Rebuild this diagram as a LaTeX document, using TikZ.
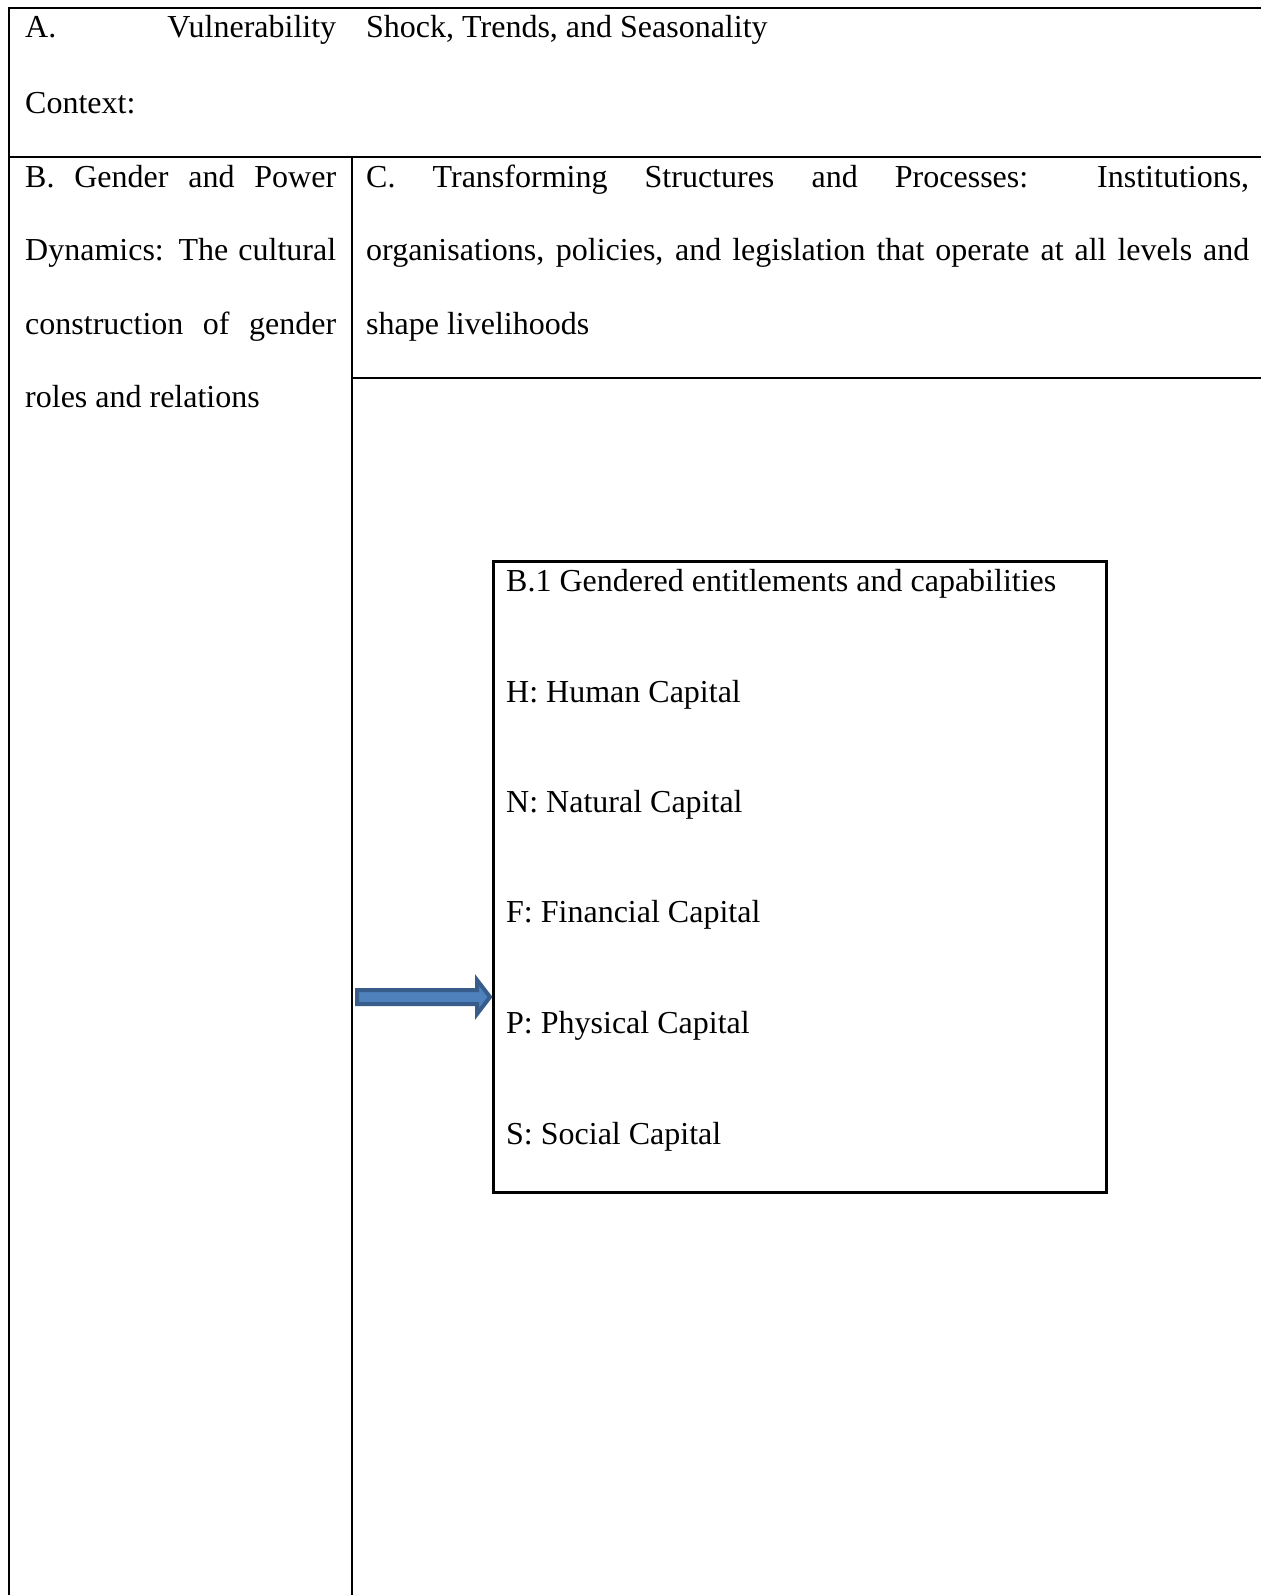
\documentclass[tikz,border=0pt]{standalone}
\usepackage{fontspec}
\setmainfont{Liberation Serif}
\usetikzlibrary{calc}
\begin{document}
\begin{tikzpicture}[x=1pt,y=-1pt,
  rule/.style={line width=2.5pt,black},
  txt/.style={anchor=base west,inner sep=0pt,font=\fontsize{32}{36}\selectfont},
  capbox/.style={draw,line width=2.5pt,anchor=north west,inner sep=0pt},
  blockarrow/.style={fill={rgb,255:red,79;green,129;blue,189},draw={rgb,255:red,56;green,93;blue,138},line width=4pt,line join=miter}
]
\useasboundingbox (0,0) rectangle (1261,1595);
% frame lines
\coordinate (tl) at (9,8);
\coordinate (tr) at (1261,8);
\coordinate (bl) at (9,1595);
\coordinate (ml) at (9,157);
\coordinate (mr) at (1261,157);
\coordinate (dt) at (352,157);
\coordinate (db) at (352,1595);
\coordinate (cl) at (352,378);
\coordinate (cr) at (1261,378);
\draw[rule] (tr) -- (tl) -- (bl);
\draw[rule] (ml) -- (mr);
\draw[rule] (dt) -- (db);
\draw[rule] (cl) -- (cr);
% row A
\node[txt] (a1) at (25,38) {\makebox[311pt][s]{A. Vulnerability}};
\node[txt] (a2) at (25,113) {Context:};
\node[txt] (a3) at (366,38) {Shock, Trends, and Seasonality};
% column B
\node[txt] (b1) at (25,187) {\makebox[311pt][s]{B. Gender and Power}};
\node[txt] (b2) at (25,260.5) {\makebox[311pt][s]{Dynamics: The cultural}};
\node[txt] (b3) at (25,334) {\makebox[311pt][s]{construction of gender}};
\node[txt] (b4) at (25,407.5) {roles and relations};
% column C
\node[txt] (c1) at (366,187) {\makebox[883pt][s]{C. Transforming Structures and Processes: Institutions,}};
\node[txt] (c2) at (366,260.5) {\makebox[883pt][s]{organisations, policies, and legislation that operate at all levels and}};
\node[txt] (c3) at (366,334) {shape livelihoods};
% inner box
\node[capbox,minimum width=613pt,minimum height=631pt] (caps) at (492,560) {};
\node[txt] (k0) at (506,591) {B.1 Gendered entitlements and capabilities};
\node[txt] (k1) at (506,702) {H: Human Capital};
\node[txt] (k2) at (506,812) {N: Natural Capital};
\node[txt] (k3) at (506,922) {F: Financial Capital};
\node[txt] (k4) at (506,1033) {P: Physical Capital};
\node[txt] (k5) at (506,1144) {S: Social Capital};
% block arrow
\coordinate (as) at (357,997);
\coordinate (ae) at (caps.west |- as);
\draw[blockarrow] ($(as)+(0,-7)$) -- ++(120,0) -- ++(0,-10) -- ($(ae)+(-2,0)$) -- ($(as)+(120,17)$) -- ++(0,-10) -- ($(as)+(0,7)$) -- cycle;
\end{tikzpicture}
\end{document}
